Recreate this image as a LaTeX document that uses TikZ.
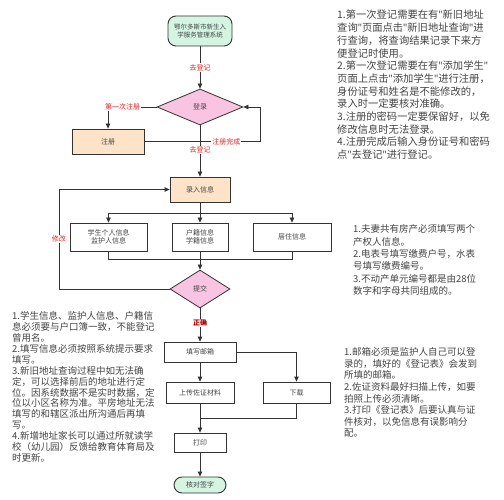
\documentclass[tikz,border=0pt]{standalone}
\usepackage{fontspec}
\setmainfont{Noto Sans CJK SC}
\newfontfamily\latq{Noto Sans}
\newcommand{\qq}{{\latq "}}
\usetikzlibrary{shapes.geometric,arrows.meta}
\definecolor{lineC}{HTML}{333333}
\definecolor{txtC}{HTML}{444444}
\definecolor{mint}{HTML}{D3F5E2}
\definecolor{pinkD}{HTML}{F9C4E1}
\definecolor{peach}{HTML}{FDE3C8}
\definecolor{redL}{HTML}{E02424}
\definecolor{redD}{HTML}{B00000}
\tikzset{
  term/.style={draw=lineC, line width=0.9pt, rounded corners=8pt, fill=mint, text=txtC,
    font=\fontsize{6.5}{8}\selectfont, align=center, inner sep=0pt},
  dia/.style={draw=lineC, line width=0.8pt, diamond, fill=pinkD, text=txtC,
    font=\fontsize{7}{8}\selectfont, inner sep=0pt},
  pbox/.style={draw=lineC, line width=0.8pt, fill=peach, text=txtC,
    font=\fontsize{7}{8.5}\selectfont, align=center, inner sep=0pt},
  wbox/.style={draw=lineC, line width=0.8pt, fill=white, text=txtC,
    font=\fontsize{7}{8.5}\selectfont, align=center, inner sep=0pt},
  lbl/.style={text=redL, fill=white, font=\fontsize{7}{8}\selectfont, inner sep=1pt},
  arr/.style={draw=lineC, line width=0.8pt, -{Triangle[length=5pt,width=4.5pt]}},
  ln/.style={draw=lineC, line width=0.8pt},
  note/.style={text=txtC, align=left, inner sep=0pt, anchor=north west}
}
\begin{document}
\begin{tikzpicture}[x=1pt,y=-1pt]
\useasboundingbox[fill=white] (0,0) rectangle (504,500);

% flow nodes
\node[term, minimum width=64pt, minimum height=30pt] (start) at (200,31) {鄂尔多斯市新生入\\学服务管理系统};
\node[dia, minimum width=86pt, minimum height=36pt, aspect=2.4] (login) at (200,107) {登录};
\node[pbox, minimum width=72pt, minimum height=25pt] (reg) at (108,141.5) {注册};
\node[pbox, minimum width=60pt, minimum height=25pt] (input) at (200,189.5) {录入信息};
\node[wbox, minimum width=77pt, minimum height=28pt] (b1) at (108.5,237) {学生个人信息\\监护人信息};
\node[wbox, minimum width=56pt, minimum height=28pt] (b2) at (200,237) {户籍信息\\学籍信息};
\node[wbox, minimum width=78pt, minimum height=28pt] (b3) at (292,237) {居住信息};
\node[dia, minimum width=60pt, minimum height=38pt, aspect=1.6] (submit) at (200,289) {提交};
\node[wbox, minimum width=72pt, minimum height=20pt] (email) at (200,352) {填写邮箱};
\node[wbox, minimum width=68pt, minimum height=21pt] (upload) at (200,392.5) {上传佐证材料};
\node[wbox, minimum width=67pt, minimum height=21pt] (dl) at (296.5,392.5) {下载};
\node[wbox, minimum width=52pt, minimum height=19pt] (print) at (200,442.5) {打印};
\node[term, minimum width=52pt, minimum height=16pt, font=\fontsize{7}{8}\selectfont] (sign) at (200,485) {核对签字};

% helper coordinates
\coordinate (cR) at (260,0);
\coordinate (cL) at (59,0);
\coordinate (splitT) at (200,213);
\coordinate (joinB) at (200,259);
\coordinate (join2) at (200,418);

% connectors
\draw[arr] (start) -- node[lbl]{去登记} (login);
\draw[arr] (login.west) -| node[lbl, pos=0.35]{第一次注册} (reg.north);
\draw[arr] (reg.east) -- node[lbl, pos=0.71]{注册完成} (reg.east -| cR) |- (login.east);
\draw[arr] (login.south) -- node[lbl, pos=0.48]{去登记} (input.north);
\draw[ln] (input.south) -- (splitT);
\draw[arr] (splitT) -| (b1.north);
\draw[arr] (splitT) -| (b3.north);
\draw[arr] (splitT) -- (b2.north);
\draw[ln] (b1.south) |- (joinB);
\draw[ln] (b3.south) |- (joinB);
\draw[ln] (b2.south) -- (joinB);
\draw[arr] (joinB) -- (submit.north);
\draw[arr] (submit.west) -- (submit.west -| cL) |- node[lbl, pos=0.25]{修改} (input.west);
\draw[arr] (submit.south) -- node[lbl, pos=0.44, text=redD]{\textbf{正确}} (email.north);
\draw[arr] (email.east) -| (dl.north);
\draw[arr] (email.south) -- (upload.north);
\draw[ln] (upload.south) -- (join2);
\draw[ln] (dl.south) |- (join2);
\draw[arr] (join2) -- (print.north);
\draw[arr] (print.south) -- (sign.north);

% notes
\node[note, font=\fontsize{10.3}{12.7}\selectfont] (n1) at (337,10) {1.第一次登记需要在有\qq 新旧地址\\查询\qq 页面点击\qq 新旧地址查询\qq 进\\行查询，将查询结果记录下来方\\便登记时使用。\\2.第一次登记需要在有\qq 添加学生\qq\\页面上点击\qq 添加学生\qq 进行注册，\\身份证号和姓名是不能修改的，\\录入时一定要核对准确。\\3.注册的密码一定要保留好，以免\\修改信息时无法登录。\\4.注册完成后输入身份证号和密码\\点\qq 去登记\qq 进行登记。};
\node[note, font=\fontsize{9.5}{12.4}\selectfont] (n2) at (353,224.5) {1.夫妻共有房产必须填写两个\\产权人信息。\\2.电表号填写缴费户号，水表\\号填写缴费编号。\\3.不动产单元编号都是由28位\\数字和字母共同组成的。};
\node[note, font=\fontsize{9.5}{10.9}\selectfont] (n3) at (12,311.5) {1.学生信息、监护人信息、户籍信\\息必须要与户口簿一致，不能登记\\曾用名。\\2.填写信息必须按照系统提示要求\\填写。\\3.新旧地址查询过程中如无法确\\定，可以选择前后的地址进行定\\位。因系统数据不是实时数据，定\\位以小区名称为准。平房地址无法\\填写的和辖区派出所沟通后再填\\写。\\4.新增地址家长可以通过所就读学\\校（幼儿园）反馈给教育体育局及\\时更新。};
\node[note, font=\fontsize{9.5}{11.6}\selectfont] (n4) at (344,347.5) {1.邮箱必须是监护人自己可以登\\录的，填好的《登记表》会发到\\所填的邮箱。\\2.佐证资料最好扫描上传，如要\\拍照上传必须清晰。\\3.打印《登记表》后要认真与证\\件核对，以免信息有误影响分\\配。};
\end{tikzpicture}
\end{document}
